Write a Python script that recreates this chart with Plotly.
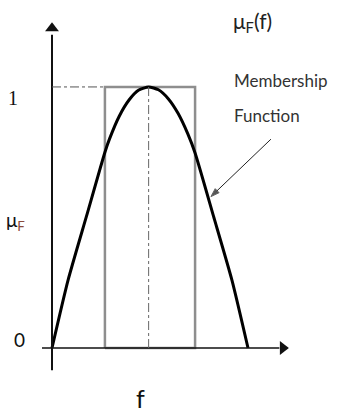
import plotly.graph_objects as go

# Membership function curve (f, mu)
curve_f = [0.0, 0.82, 1.76, 2.70, 2.93, 3.43, 3.93, 4.43, 4.93, 5.43, 5.93, 6.43, 6.93, 7.30, 8.24, 9.18, 10.0]
curve_mu = [0.0, 0.26, 0.505, 0.75, 0.80, 0.888, 0.95, 0.988, 1.0, 0.989, 0.955, 0.899, 0.82, 0.747, 0.505, 0.26, 0.0]

# Crisp (rectangular) set
rect_f = [2.70, 2.70, 7.30, 7.30, 2.70]
rect_mu = [0.0, 1.0, 1.0, 0.0, 0.0]

peak_f = 4.93
x_range = [-2.653, 15.0]
y_range = [-0.245, 1.333]

# pointer arrow (tail -> head)
ptr_f = [11.17, 8.11]
ptr_mu = [0.80, 0.58]

fig = go.Figure()

# x axis line
fig.add_shape(type="line", x0=-0.51, x1=11.6, y0=0, y1=0, line=dict(color="#111", width=1.5))
# y axis line (extends below x axis)
fig.add_shape(type="line", x0=0, x1=0, y0=-0.085, y1=1.2, line=dict(color="#111", width=2))

# dash-dot guide lines
fig.add_shape(type="line", x0=0, x1=2.70, y0=1, y1=1, line=dict(color="#555", width=1, dash="dashdot"))
fig.add_shape(type="line", x0=peak_f, x1=peak_f, y0=0, y1=1, line=dict(color="#666", width=1, dash="dashdot"))

fig.add_trace(go.Scatter(x=rect_f, y=rect_mu, mode="lines",
                         line=dict(color="#8e8e8e", width=2.5), hoverinfo="skip"))
fig.add_trace(go.Scatter(x=curve_f, y=curve_mu, mode="lines", line_shape="spline",
                         line=dict(color="#000", width=3, smoothing=0.6), hoverinfo="skip"))

# axis arrowheads
fig.add_trace(go.Scatter(x=[0], y=[1.225], mode="markers",
                         marker=dict(symbol="triangle-up", size=12, color="#111"), hoverinfo="skip"))
fig.add_trace(go.Scatter(x=[11.78], y=[0], mode="markers",
                         marker=dict(symbol="triangle-right", size=12, color="#111"), hoverinfo="skip"))
# pointer arrow
fig.add_trace(go.Scatter(x=ptr_f, y=ptr_mu, mode="lines+markers",
                         line=dict(color="#222", width=1),
                         marker=dict(symbol=["circle", "arrow"], size=[0, 9], angleref="previous", color="#111"),
                         hoverinfo="skip"))

font = "Lato, 'Open Sans', sans-serif"
ann = []
texts = [
    ("μ<sub>F</sub>(f)", 231, 22, 21, "#222", font),
    ("Membership", 232, 80, 17, "#333", font),
    ("Function", 232, 115, 17, "#333", font),
    ("1", 6, 98, 20, "#111", "'Liberation Serif', serif"),
    ("μ<sub><span style='color:#8a4a3a'>F</span></sub>", 4, 221, 19, "#111", font),
    ("0", 12, 339, 19, "#111", font),
    ("f", 134, 398, 25, "#111", font),
]
for t, px, py, s, c, fam in texts:
    ann.append(dict(x=px / 346, y=1 - py / 412, xref="paper", yref="paper", xanchor="left",
                    yanchor="middle", text=t, showarrow=False, font=dict(family=fam, size=s, color=c)))

fig.update_layout(
    width=346, height=412, margin=dict(l=0, r=0, t=0, b=0),
    paper_bgcolor="white", plot_bgcolor="white", showlegend=False,
    xaxis=dict(range=x_range, visible=False, fixedrange=True),
    yaxis=dict(range=y_range, visible=False, fixedrange=True),
    annotations=ann,
)
fig.write_html("out.html", config={"displayModeBar": False})
